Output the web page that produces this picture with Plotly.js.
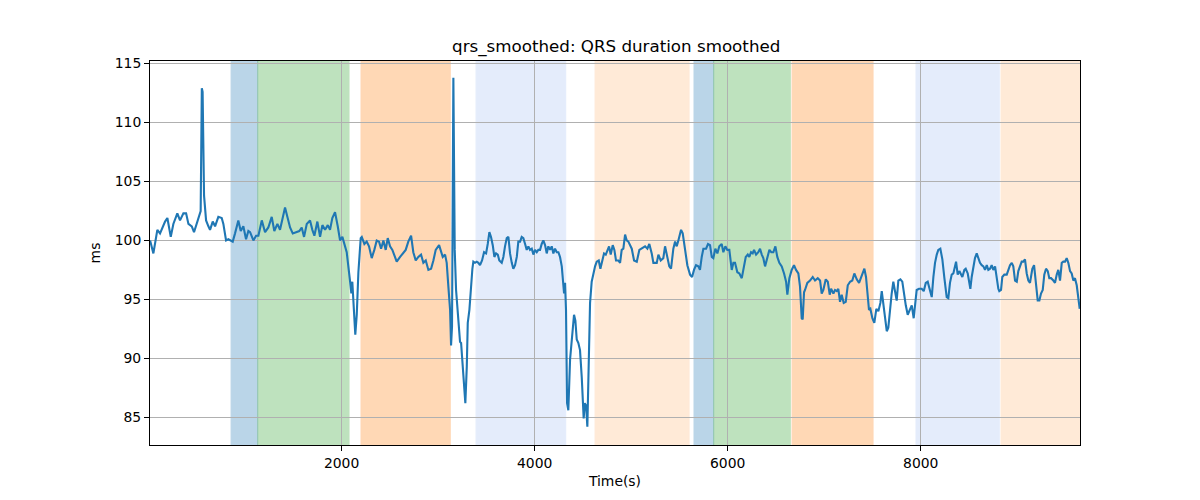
<!DOCTYPE html>
<html>
<head>
<meta charset="utf-8">
<script src="https://cdn.plot.ly/plotly-3.0.1.min.js"></script>
<style>
  html, body { margin: 0; padding: 0; background: #fff; }
  #chart { width: 1200px; height: 500px; }
</style>
</head>
<body>
<div id="chart"></div>
<script>
// ------------------------------
// QRS duration, smoothed
// ------------------------------
var timeS = [
  16, 50, 91, 119, 171, 195, 230, 257, 298, 326, 361, 389, 413, 448, 471, 499, 526, 540,
  552, 560, 575, 596, 620, 637, 665, 689, 723, 758, 775, 803, 827, 844, 872, 896, 930, 955,
  982, 1010, 1034, 1052, 1086, 1114, 1138, 1173, 1207, 1241, 1276, 1303, 1335, 1362, 1390,
  1414, 1438, 1466, 1494, 1535, 1562, 1587, 1611, 1639, 1673, 1697, 1718, 1749, 1777, 1801,
  1829, 1857, 1880, 1904, 1932, 1960, 1984, 2008, 2028, 2053, 2088, 2101, 2111, 2129, 2142,
  2157, 2174, 2198, 2209, 2236, 2260, 2284, 2312, 2339, 2364, 2388, 2409, 2433, 2457, 2478,
  2502, 2526, 2547, 2571, 2606, 2640, 2664, 2691, 2720, 2743, 2768, 2795, 2823, 2847, 2872,
  2899, 2927, 2951, 2975, 3010, 3048, 3072, 3089, 3106, 3124, 3134, 3144, 3158, 3172, 3186,
  3199, 3214, 3227, 3238, 3255, 3269, 3282, 3297, 3307, 3324, 3338, 3355, 3365, 3382, 3400,
  3417, 3434, 3455, 3476, 3497, 3514, 3531, 3548, 3566, 3583, 3600, 3618, 3634, 3659, 3676,
  3693, 3711, 3728, 3745, 3763, 3779, 3797, 3815, 3831, 3849, 3866, 3883, 3901, 3918, 3935,
  3952, 3970, 3987, 4004, 4022, 4038, 4056, 4073, 4090, 4108, 4125, 4142, 4160, 4177, 4194,
  4211, 4229, 4246, 4263, 4281, 4297, 4305, 4315, 4325, 4336, 4349, 4367, 4384, 4395, 4408,
  4422, 4436, 4453, 4470, 4488, 4498, 4508, 4519, 4533, 4546, 4560, 4574, 4591, 4608, 4626,
  4643, 4664, 4681, 4698, 4719, 4737, 4753, 4771, 4788, 4809, 4826, 4843, 4867, 4885, 4902,
  4919, 4937, 4954, 4971, 5006, 5030, 5058, 5085, 5109, 5144, 5168, 5188, 5213, 5230, 5265,
  5282, 5306, 5333, 5351, 5375, 5395, 5413, 5437, 5455, 5472, 5489, 5506, 5517, 5534, 5558,
  5582, 5610, 5631, 5651, 5672, 5696, 5713, 5731, 5748, 5776, 5796, 5817, 5835, 5851, 5872,
  5893, 5913, 5938, 5955, 5976, 5996, 6017, 6042, 6059, 6076, 6100, 6121, 6146, 6162, 6187,
  6208, 6224, 6242, 6259, 6273, 6294, 6317, 6335, 6353, 6369, 6387, 6411, 6432, 6452, 6473,
  6494, 6514, 6535, 6560, 6584, 6605, 6618, 6639, 6663, 6687, 6708, 6732, 6749, 6767, 6777,
  6791, 6801, 6825, 6853, 6881, 6905, 6933, 6957, 6974, 6991, 7016, 7037, 7057, 7071, 7095,
  7112, 7130, 7146, 7164, 7181, 7202, 7223, 7244, 7268, 7291, 7312, 7337, 7361, 7389, 7416,
  7433, 7451, 7464, 7478, 7499, 7519, 7540, 7561, 7582, 7596, 7613, 7630, 7648, 7664, 7682,
  7699, 7716, 7734, 7751, 7768, 7789, 7809, 7824, 7845, 7865, 7886, 7907, 7927, 7941, 7958,
  7982, 8010, 8031, 8052, 8072, 8093, 8114, 8131, 8148, 8166, 8182, 8203, 8224, 8245, 8269,
  8286, 8303, 8321, 8338, 8366, 8383, 8400, 8417, 8431, 8452, 8466, 8487, 8500, 8514, 8528,
  8545, 8562, 8580, 8597, 8614, 8632, 8649, 8666, 8684, 8700, 8718, 8735, 8752, 8770, 8787,
  8804, 8814, 8832, 8845, 8866, 8891, 8907, 8925, 8943, 8959, 8977, 8995, 9011, 9029, 9046,
  9063, 9080, 9098, 9115, 9132, 9156, 9174, 9191, 9212, 9229, 9246, 9264, 9280, 9298, 9316,
  9332, 9350, 9374, 9391, 9409, 9425, 9443, 9461, 9477, 9495, 9512, 9529, 9547, 9564, 9581,
  9598, 9616, 9633, 9647
];
var qrsMs = [
  100.0, 98.9, 100.9, 100.6, 101.6, 101.9, 100.3, 101.4, 102.3, 101.7, 102.3, 102.3, 101.4, 101.2, 100.7, 101.4, 102.0, 102.5,
  112.9, 112.6, 103.8, 101.7, 101.2, 100.9, 101.6, 101.2, 102.0, 101.9, 101.4, 100.0, 100.1, 100.0, 99.9, 100.6, 101.7, 100.8,
  101.2, 100.1, 100.8, 100.7, 100.0, 100.4, 100.4, 101.7, 100.7, 101.1, 102.0, 100.8, 101.4, 100.9, 102.1,
  102.8, 102.0, 101.1, 100.6, 100.7, 100.8, 101.1, 100.3, 101.4, 101.7, 100.9, 100.4, 101.6, 100.3, 101.3,
  100.9, 101.3, 100.9, 101.9, 102.4, 101.2, 100.0, 100.3, 99.6, 99.0, 96.5, 95.5, 96.5, 93.1, 92.0,
  93.7, 97.3, 100.2, 100.3, 99.7, 99.9, 99.5, 98.5, 99.2, 100.0, 99.9, 99.3, 100.0, 99.2, 100.2,
  99.5, 99.2, 98.8, 98.2, 98.6, 99.0, 99.2, 99.9, 100.4, 99.0, 98.3, 98.6, 98.8, 98.1, 98.3,
  97.5, 97.6, 98.3, 99.2, 99.6, 98.6, 98.8, 98.1, 96.1, 94.1, 91.1, 92.7, 113.8, 99.2, 95.8,
  94.1, 92.7, 91.4, 91.3, 89.3, 87.6, 86.2, 89.3, 93.0, 94.1, 96.1, 97.6, 98.2, 98.1, 98.2,
  98.1, 97.9, 98.3, 99.0, 98.9, 99.7, 100.7, 100.3, 99.6, 98.6, 98.9, 98.8, 98.3, 98.1, 98.6,
  99.5, 100.2, 100.3, 98.9, 98.1, 97.6, 97.9, 98.6, 99.9, 99.9, 100.3, 100.2, 99.7, 99.2, 99.5,
  99.2, 99.3, 98.8, 99.2, 99.0, 99.2, 99.2, 99.7, 100.0, 99.6, 98.9, 99.5, 99.2, 99.5, 98.9,
  99.3, 99.0, 99.0, 98.6, 97.8, 96.1, 95.5, 96.4, 94.1, 86.2, 85.6, 89.9, 91.6, 93.0, 93.7,
  93.2, 91.6, 91.3, 90.7, 88.4, 86.8, 84.9, 86.2, 86.0, 84.2, 91.3, 94.7, 96.5, 97.3, 97.8,
  98.2, 98.3, 97.6, 98.3, 98.9, 98.8, 99.2, 99.5, 98.8, 99.6, 99.2, 98.3, 98.3, 98.1, 99.2,
  99.3, 100.5, 100.0, 99.9, 99.3, 98.3, 98.2, 99.2, 99.3, 99.5, 99.3, 99.7, 98.9, 98.1, 98.1,
  98.8, 98.3, 98.5, 99.5, 98.5, 97.8, 97.6, 99.3, 99.9, 99.5, 100.0, 100.7, 100.9, 100.6, 99.2,
  97.9, 97.1, 96.9, 97.5, 97.9, 97.8, 97.5, 98.6, 99.3, 99.3, 99.7, 99.6, 98.6, 98.5, 99.3,
  98.9, 99.5, 99.7, 99.0, 99.5, 99.2, 99.2, 97.5, 98.1, 98.1, 97.3, 97.2, 96.8, 97.6, 98.6,
  98.8, 98.6, 99.0, 98.9, 99.2, 98.8, 99.0, 99.3, 98.8, 98.5, 97.8, 98.5, 99.2, 99.0, 99.0,
  99.5, 98.6, 98.1, 97.8, 97.2, 96.5, 95.4, 96.8, 97.5, 97.9, 97.5, 97.2, 96.1, 93.4, 93.3,
  95.6, 95.8, 96.4, 96.6, 96.9, 96.6, 96.8, 96.6, 95.5, 95.8, 96.7, 96.5, 95.4, 95.9, 95.5,
  95.8, 95.7, 95.9, 94.8, 95.4, 94.7, 94.8, 96.2, 96.5, 96.6, 97.2, 96.7, 96.4, 97.1, 97.6,
  96.9, 94.9, 94.1, 94.2, 93.4, 93.0, 94.2, 94.0, 94.7, 95.7, 94.4, 93.2, 92.3, 92.6, 94.4,
  95.5, 96.5, 95.5, 94.9, 96.6, 96.7, 96.5, 95.5, 94.5, 93.7, 94.1, 94.5, 93.4, 94.8, 95.8,
  95.9, 95.9, 95.7, 96.4, 96.5, 95.8, 95.2, 96.9, 98.1, 98.8, 99.2, 99.3, 98.4, 96.8, 95.2,
  95.1, 96.4, 97.1, 97.2, 98.2, 97.1, 97.4, 97.1, 96.9, 97.5, 97.6, 97.2, 96.6, 95.9, 96.9,
  97.9, 98.5, 98.9, 98.5, 98.1, 97.9, 97.8, 97.5, 97.9, 97.5, 97.6, 97.9, 97.5, 97.8, 96.8,
  95.9, 95.7, 95.8, 96.9, 97.1, 97.1, 97.5, 97.9, 98.1, 97.8, 96.6, 96.5, 97.4, 97.8, 98.2,
  98.2, 98.4, 97.2, 96.6, 96.4, 97.6, 97.9, 96.6, 94.9, 94.9, 95.5, 95.8, 97.1, 97.6, 97.4,
  96.8, 96.8, 96.6, 96.4, 97.1, 97.5, 96.6, 98.1, 98.2, 98.2, 98.5, 98.1, 97.4, 97.2, 96.6,
  96.8, 96.2, 95.2, 94.2
];

// ------------------------------
// Shaded segments (start, end, colour, opacity)
// ------------------------------
var segStart = [855, 1131, 2201, 3393, 4626, 5651, 5855, 6667, 7951, 8832];
var segEnd   = [1131, 2077, 3126, 4322, 5600, 5855, 6649, 7506, 8814, 9700];
var segColor = ['#1f77b4', '#2ca02c', '#ff7f0e', '#6495ed', '#ff7f0e',
                '#1f77b4', '#2ca02c', '#ff7f0e', '#6495ed', '#ff7f0e'];
var segAlpha = [0.3, 0.3, 0.3, 0.17, 0.16, 0.3, 0.3, 0.3, 0.17, 0.16];

var shapes = segStart.map(function (s, i) {
  return {
    type: 'rect', xref: 'x', yref: 'paper', layer: 'below',
    x0: s, x1: segEnd[i], y0: 0, y1: 1,
    fillcolor: segColor[i], opacity: segAlpha[i],
    line: { color: segColor[i], width: 1 }
  };
});

var line = {
  x: timeS,
  y: qrsMs,
  type: 'scatter',
  mode: 'lines',
  line: { color: '#1f77b4', width: 2.1 },
  hoverinfo: 'x+y'
};

var font = 'DejaVu Sans, sans-serif';
var layout = {
  width: 1200,
  height: 500,
  margin: { l: 150, r: 120, t: 61, b: 55 },
  paper_bgcolor: '#fff',
  plot_bgcolor: 'rgba(0,0,0,0)',
  showlegend: false,
  font: { family: font, size: 13.9, color: '#000' },
  title: {
    text: 'qrs_smoothed: QRS duration smoothed',
    font: { family: font, size: 16.7, color: '#000' },
    x: 0.5135, xanchor: 'center',
    y: 0.908, yanchor: 'middle', yref: 'container'
  },
  xaxis: {
    title: { text: 'Time(s)', font: { family: font, size: 13.9 }, standoff: 6 },
    range: [15, 9650],
    tickvals: [2000, 4000, 6000, 8000],
    ticks: 'outside', ticklen: 5, tickcolor: '#000',
    showgrid: true, gridcolor: '#b0b0b0', gridwidth: 1,
    showline: true, linecolor: '#000', linewidth: 1, mirror: true,
    zeroline: false
  },
  yaxis: {
    title: { text: 'ms', font: { family: font, size: 13.9 }, standoff: 10 },
    range: [82.65, 115.22],
    tickvals: [85, 90, 95, 100, 105, 110, 115],
    ticks: 'outside', ticklen: 5, tickcolor: '#000',
    showgrid: true, gridcolor: '#b0b0b0', gridwidth: 1,
    showline: true, linecolor: '#000', linewidth: 1, mirror: true,
    zeroline: false
  },
  shapes: shapes
};

Plotly.newPlot('chart', [line], layout, { displayModeBar: false, staticPlot: true });
</script>
</body>
</html>
